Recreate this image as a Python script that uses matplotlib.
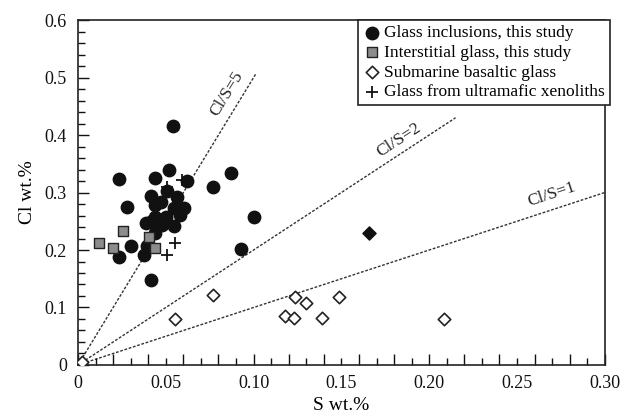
import math
import matplotlib
matplotlib.use("Agg")
import matplotlib.pyplot as plt
from matplotlib.ticker import MultipleLocator, FixedLocator, NullFormatter

plt.rcParams['font.family'] = ['Liberation Serif', 'DejaVu Serif']

# Glass inclusions, this study
gi_s = [0.0539, 0.0235, 0.0438, 0.0520, 0.0620, 0.0767, 0.0508, 0.0414, 0.0565, 0.0470,
        0.0436, 0.0277, 0.0548, 0.0605, 0.0580, 0.0500, 0.0440, 0.0387, 0.0421, 0.0480,
        0.0548, 0.0436, 0.0300, 0.0395, 0.0235, 0.0376, 0.0417, 0.0874, 0.1002, 0.0926]
gi_cl = [0.416, 0.3235, 0.3246, 0.339, 0.3206, 0.310, 0.303, 0.294, 0.2916, 0.284,
         0.278, 0.274, 0.2725, 0.2725, 0.261, 0.258, 0.258, 0.2475, 0.251, 0.2435,
         0.242, 0.230, 0.2075, 0.2075, 0.188, 0.191, 0.148, 0.334, 0.257, 0.201]

# Interstitial glass, this study
ig_s = [0.0121, 0.0197, 0.0258, 0.0406, 0.0438]
ig_cl = [0.2127, 0.203, 0.2325, 0.223, 0.204]

# Submarine basaltic glass
sb_s = [0.0767, 0.1235, 0.1298, 0.1488, 0.1180, 0.1231, 0.1389, 0.2083, 0.0552, 0.002]
sb_cl = [0.1217, 0.1177, 0.1084, 0.1188, 0.0858, 0.0823, 0.0823, 0.080, 0.0807, 0.005]

# Filled diamond
fd_s = [0.1656]
fd_cl = [0.229]

# Glass from ultramafic xenoliths
ux_s = [0.0508, 0.0595, 0.0552, 0.0508]
ux_cl = [0.309, 0.322, 0.2127, 0.191]

# Cl/S ratio lines: ratio, end S value, label, label position
ratios = [5, 2, 1]
ratio_end = [0.1013, 0.215, 0.30]
ratio_labels = ["Cl/S=5", "Cl/S=2", "Cl/S=1"]
label_s = [0.0815, 0.1735, 0.2575]
label_cl = [0.428, 0.356, 0.270]

x_tick_vals = [0, 0.05, 0.10, 0.15, 0.20, 0.25, 0.30]
x_tick_labels = ['0', '0.05', '0.10', '0.15', '0.20', '0.25', '0.30']
y_tick_vals = [0, 0.1, 0.2, 0.3, 0.4, 0.5, 0.6]
y_tick_labels = ['0', '0.1', '0.2', '0.3', '0.4', '0.5', '0.6']

fig = plt.figure(figsize=(6.32, 4.19), dpi=100)
ax = fig.add_axes([0.1234, 0.1289, 0.8336, 0.8233])

ax.set_xlim(0, 0.30)
ax.set_ylim(0, 0.6)

for r, e in zip(ratios, ratio_end):
    ax.plot([0, e], [0, r * e], color='#333333', lw=1.0, ls=(0, (2, 1.2)), zorder=1)

fig.canvas.draw()
for r, lab, lx, ly in zip(ratios, ratio_labels, label_s, label_cl):
    p0 = ax.transData.transform((0, 0))
    p1 = ax.transData.transform((0.1, 0.1 * r))
    ang = math.degrees(math.atan2(p1[1] - p0[1], p1[0] - p0[0]))
    ax.text(lx, ly, lab, rotation=ang, rotation_mode='anchor', ha='left', va='bottom',
            fontsize=12.5, color='#222222')

ax.scatter(gi_s, gi_cl, s=80, marker='o', color='#111111', edgecolor='#111111',
           zorder=3, label='Glass inclusions, this study')
ax.scatter(ig_s, ig_cl, s=55, marker='s', facecolor='#8c8c8c', edgecolor='#222222',
           linewidth=1.0, zorder=3, label='Interstitial glass, this study')
ax.scatter(sb_s, sb_cl, s=40, marker='D', facecolor='white', edgecolor='#222222',
           linewidth=1.2, zorder=3, label='Submarine basaltic glass')
ax.scatter(ux_s, ux_cl, s=80, marker='+', color='#111111', linewidth=1.3,
           zorder=4, label='Glass from ultramafic xenoliths')
ax.scatter(fd_s, fd_cl, s=45, marker='D', color='#111111', zorder=3)

# x ticks: long every 0.02, short every 0.01; labels on a secondary axis
ax.xaxis.set_major_locator(MultipleLocator(0.02))
ax.xaxis.set_minor_locator(MultipleLocator(0.01))
ax.xaxis.set_major_formatter(NullFormatter())
ax.yaxis.set_major_locator(FixedLocator(y_tick_vals))
ax.set_yticklabels(y_tick_labels)
ax.yaxis.set_minor_locator(MultipleLocator(0.02))
ax.tick_params(which='both', direction='in', top=False, right=False, labelsize=13, colors='#111111')
ax.tick_params(which='major', length=8, width=1)
ax.tick_params(which='minor', length=5, width=1)
ax.tick_params(axis='y', pad=8)

sec = ax.secondary_xaxis('bottom')
sec.set_xticks(x_tick_vals)
sec.set_xticklabels(x_tick_labels)
sec.tick_params(length=0, pad=7, labelsize=13, colors='#111111')
sec.spines['bottom'].set_visible(False)

for sp in ax.spines.values():
    sp.set_linewidth(1.2)
    sp.set_color('#222222')

sec.set_xlabel('S wt.%', fontsize=14, labelpad=4)
ax.set_ylabel('Cl wt.%', fontsize=14, labelpad=6)

leg = ax.legend(loc='upper right', bbox_to_anchor=(1.0095, 1.0), fontsize=12.5,
                frameon=True, fancybox=False, edgecolor='#222222', framealpha=1,
                borderpad=0.3, labelspacing=0.2, handletextpad=0.2,
                handlelength=1.0, borderaxespad=0, scatterpoints=1)
leg.get_frame().set_linewidth(1.2)

fig.savefig('out.png', dpi=100)
